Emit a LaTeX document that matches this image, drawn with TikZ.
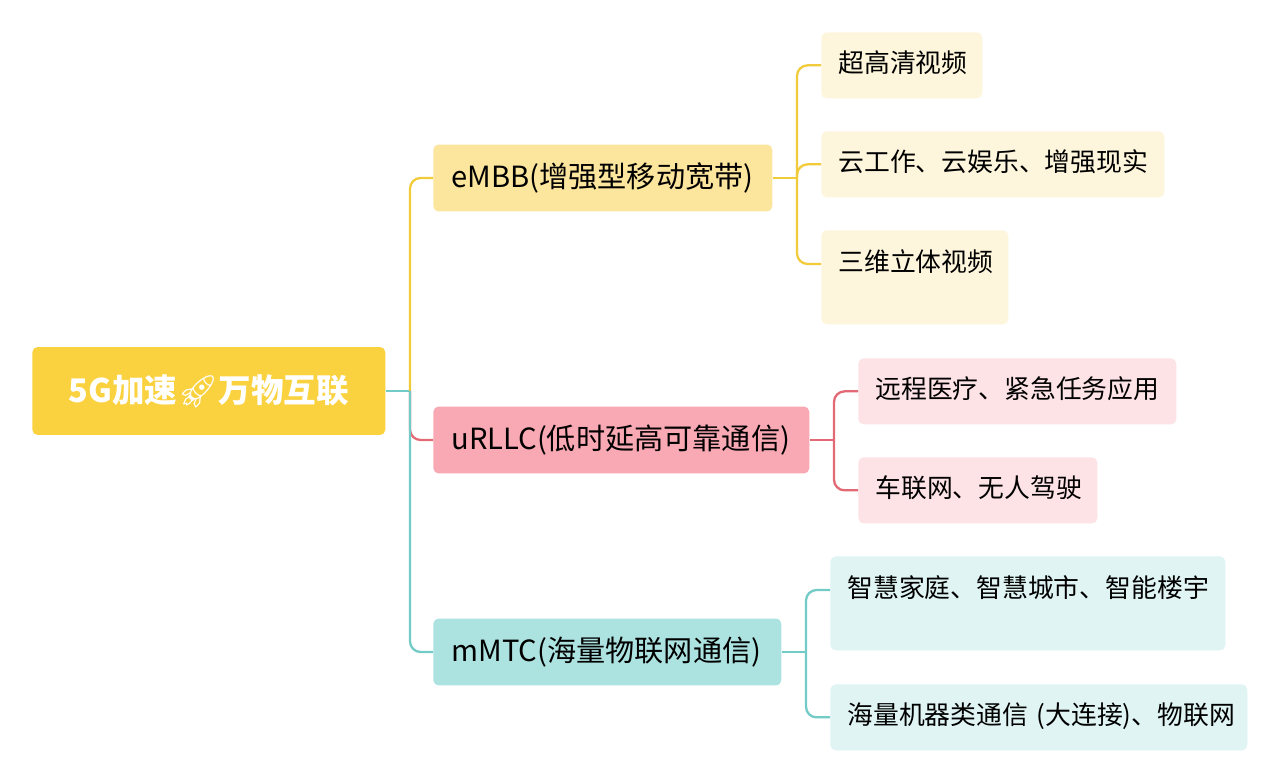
\documentclass[tikz,border=0pt]{standalone}
\usepackage{fontspec}
\setmainfont{Noto Sans CJK SC}
\newfontfamily\emojifont{Noto Emoji}
\definecolor{rootfill}{HTML}{FAD13E}
\definecolor{ylwfill}{HTML}{FCE59D}
\definecolor{redfill}{HTML}{F8A9B3}
\definecolor{tealfill}{HTML}{ACE3E1}
\definecolor{ylwleaf}{HTML}{FEF6DC}
\definecolor{redleaf}{HTML}{FDE2E6}
\definecolor{tealleaf}{HTML}{DFF4F3}
\definecolor{ylwline}{HTML}{F2CB3B}
\definecolor{redline}{HTML}{E36A74}
\definecolor{tealline}{HTML}{72CBC6}
\tikzset{
  topic/.style={anchor=west,rounded corners=3pt,inner xsep=0.36cm,align=left,
    minimum height=1.34cm,font=\fontsize{16.6}{19}\selectfont},
  leaf/.style={anchor=north west,rounded corners=3pt,inner xsep=0.34cm,inner ysep=0pt,
    align=left,text height=0.80cm,text depth=0.52cm,font=\fontsize{14.7}{17}\selectfont},
  tallleaf/.style={leaf,text height=0.82cm,text depth=1.06cm},
  branch/.style={line width=1.3pt,rounded corners=6pt}
}
\begin{document}
\begin{tikzpicture}[x=0.02cm,y=-0.02cm]
    \useasboundingbox[fill=white] (0,0) rectangle (1280,783);

    \node[fill=rootfill,rounded corners=3pt,text=white,minimum height=1.76cm,
      minimum width=7.06cm,align=center,anchor=west,font=\fontsize{18.5}{21}\selectfont\bfseries]
      (root) at (32,391) {5G加速{\emojifont 🚀}万物互联};

    \node[topic,fill=ylwfill,text width=6.06cm] (embb) at (433,178) {eMBB(增强型移动宽带)};
    \node[topic,fill=redfill,text width=6.8cm] (urllc) at (433,440) {uRLLC(低时延高可靠通信)};
    \node[topic,fill=tealfill,text width=6.24cm] (mmtc) at (433,652) {mMTC(海量物联网通信)};

    \node[leaf,fill=ylwleaf,text width=2.54cm] (video) at (821,32) {超高清视频};
    \node[leaf,fill=ylwleaf,text width=6.18cm] (cloud) at (821,131) {云工作、云娱乐、增强现实};
    \node[tallleaf,fill=ylwleaf,text width=3.06cm] (threed) at (821,230) {三维立体视频};
    \node[leaf,fill=redleaf,text width=5.68cm] (medic) at (858,358) {远程医疗、紧急任务应用};
    \node[leaf,fill=redleaf,text width=4.1cm] (car) at (858,457) {车联网、无人驾驶};
    \node[tallleaf,fill=tealleaf,text width=7.22cm] (smart) at (830,556) {智慧家庭、智慧城市、智能楼宇};
    \node[leaf,fill=tealleaf,text width=7.66cm] (machine) at (830,684) {\mbox{海量机器类通信 (大连接)、物联网}};

    \coordinate (rj) at (410,391);
    \coordinate (ej) at (797,178);
    \coordinate (uj) at (834,440);
    \coordinate (mj) at (806,652);

    \draw[branch,tealline] (root.east) -- (rj);
    \draw[branch,ylwline] (rj) |- (embb.west);
    \draw[branch,redline] (rj) |- (urllc.west);
    \draw[branch,tealline] (rj) |- (mmtc.west);

    \draw[branch,ylwline] (embb.east) -- (ej);
    \draw[branch,ylwline] (ej) |- (video.west);
    \draw[branch,ylwline] (ej) |- (cloud.west);
    \draw[branch,ylwline] (ej) |- ([yshift=-0.68cm]threed.north west);
    \draw[branch,redline] (urllc.east) -- (uj);
    \draw[branch,redline] (uj) |- (medic.west);
    \draw[branch,redline] (uj) |- (car.west);
    \draw[branch,tealline] (mmtc.east) -- (mj);
    \draw[branch,tealline] (mj) |- ([yshift=-0.68cm]smart.north west);
    \draw[branch,tealline] (mj) |- (machine.west);
\end{tikzpicture}
\end{document}
